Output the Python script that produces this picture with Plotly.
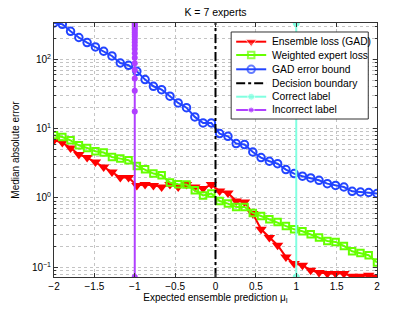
import plotly.graph_objects as go
import numpy as np

# x positions (40 points between -2 and 2)
mu = [-2.0, -1.897, -1.795, -1.692, -1.590, -1.487, -1.385, -1.282, -1.179, -1.077,
      -0.974, -0.872, -0.769, -0.667, -0.564, -0.462, -0.359, -0.256, -0.154, -0.051,
      0.051, 0.154, 0.256, 0.359, 0.462, 0.564, 0.667, 0.769, 0.872, 0.974,
      1.077, 1.179, 1.282, 1.385, 1.487, 1.590, 1.692, 1.795, 1.897, 2.0]

ensemble_loss = [6.8, 6.3, 5.27, 4.23, 3.83, 3.31, 2.80, 2.37, 1.97, 1.97,
                 1.52, 1.56, 1.52, 1.44, 1.56, 1.44, 1.56, 1.44, 1.37, 1.56,
                 1.26, 1.18, 0.905, 0.875, 0.595, 0.353, 0.268, 0.208, 0.141, 0.113,
                 0.107, 0.0905, 0.0839, 0.0811, 0.0811, 0.0811, 0.0741, 0.0741, 0.0767, 0.0724]

weighted_loss = [8.03, 7.59, 6.80, 5.76, 5.27, 4.72, 4.52, 3.91, 3.70, 3.50,
                 2.90, 2.59, 2.25, 2.13, 1.67, 1.58, 1.56, 1.29, 1.09, 1.16,
                 0.905, 0.830, 0.742, 0.742, 0.608, 0.550, 0.493, 0.451, 0.395, 0.353,
                 0.331, 0.299, 0.268, 0.240, 0.232, 0.203, 0.170, 0.161, 0.149, 0.117]

gad_bound = [335, 321, 254, 207, 175, 151, 131, 112, 88.7, 82.2,
             67.3, 51.1, 40.9, 36.6, 29.4, 23.5, 20.1, 14.8, 12.1, 12.1,
             8.49, 7.76, 6.10, 5.90, 4.61, 3.83, 3.39, 3.13, 2.57, 2.25,
             2.06, 1.95, 1.80, 1.61, 1.52, 1.44, 1.25, 1.22, 1.20, 1.16]

boundary_x = [0, 0]
boundary_y = [0.0724, 335]

correct_x = [1, 1]
correct_y = [0.0724, 335]

incorrect_y = [0.0724, 17.7, 35.3, 52.9, 70.5, 88.2, 106, 123, 141, 159,
               176, 194, 212, 229, 247, 265, 282, 300, 317, 335]
incorrect_x = [-1] * len(incorrect_y)

x_ticks = [-2, -1.5, -1, -0.5, 0, 0.5, 1, 1.5, 2]
x_tick_text = ["\u22122", "\u22121.5", "\u22121", "\u22120.5", "0", "0.5", "1", "1.5", "2"]
y_ticks = [0.1, 1, 10, 100]
y_tick_text = ["10<sup>\u22121</sup>", "10<sup>0</sup>", "10<sup>1</sup>", "10<sup>2</sup>"]

series_names = ["Ensemble loss (GAD)", "Weighted expert loss", "GAD error bound",
                "Decision boundary", "Correct label", "Incorrect label"]

RED = "#ff0000"
GREEN = "#66ff00"
BLUE = "#2244ff"
CYAN = "#80ffe0"
MAG = "#b040ff"

styles = [
    dict(line=dict(color=RED, width=2), marker=dict(symbol="triangle-down", size=10, color=RED), mode="lines+markers"),
    dict(line=dict(color=GREEN, width=2), marker=dict(symbol="square-open", size=6.5, color=GREEN, line=dict(width=2)), mode="lines+markers"),
    dict(line=dict(color=BLUE, width=2), marker=dict(symbol="circle-open", size=7.5, color=BLUE, line=dict(width=2)), mode="lines+markers"),
    dict(line=dict(color="black", width=2, dash="dashdot"), marker=dict(size=1), mode="lines"),
    dict(line=dict(color=CYAN, width=2), marker=dict(symbol="circle", size=7, color=CYAN), mode="lines+markers"),
    dict(line=dict(color=MAG, width=2), marker=dict(symbol="circle", size=6, color=MAG), mode="lines+markers"),
]

xs = [mu, mu, mu, boundary_x, correct_x, incorrect_x]
ys = [ensemble_loss, weighted_loss, gad_bound, boundary_y, correct_y, incorrect_y]

fig = go.Figure()
for name, x, y, st in zip(series_names, xs, ys, styles):
    fig.add_trace(go.Scatter(x=x, y=y, name=name, showlegend=False, hoverinfo="skip", **st))

# ---- legend drawn on an overlay axis (paper-like 0..1 coordinates) ----
lx0, lx1, ly0, ly1 = 0.5485, 0.973, 0.622, 0.9646
fig.add_trace(go.Scatter(x=[lx0, lx1, lx1, lx0, lx0], y=[ly0, ly0, ly1, ly1, ly0],
                         xaxis="x2", yaxis="y2", mode="lines", fill="toself",
                         fillcolor="white", line=dict(color="#333", width=1),
                         showlegend=False, hoverinfo="skip"))
sx0, sx1 = 0.564, 0.657
sxm = (sx0 + sx1) / 2
entry_y = [0.9264, 0.874, 0.8177, 0.7626, 0.7098, 0.6575]
for name, st, ey in zip(series_names, styles, entry_y):
    mk = dict(st["marker"])
    if st["mode"] == "lines":
        fig.add_trace(go.Scatter(x=[sx0, sx1], y=[ey, ey], xaxis="x2", yaxis="y2",
                                 mode="lines", line=st["line"], showlegend=False,
                                 hoverinfo="skip", cliponaxis=False))
    else:
        mk["size"] = [0, mk["size"], 0]
        fig.add_trace(go.Scatter(x=[sx0, sxm, sx1], y=[ey, ey, ey], xaxis="x2", yaxis="y2",
                                 mode="lines+markers", line=st["line"], marker=mk,
                                 showlegend=False, hoverinfo="skip", cliponaxis=False))
    fig.add_annotation(x=0.669, y=ey, xref="paper", yref="paper", text=name,
                       showarrow=False, xanchor="left", yanchor="middle",
                       font=dict(size=10.3, color="black"))

ymin = min(ensemble_loss)
ymax = max(gad_bound)

GRID = "#c4c4c4"
FONT = "Liberation Sans, Arial, sans-serif"
fig.update_layout(
    width=415, height=312,
    margin=dict(l=54, r=38, t=23, b=35),
    paper_bgcolor="white", plot_bgcolor="white",
    font=dict(family=FONT, size=10, color="black"),
    title=dict(text="K = 7 experts", x=0.5, xref="paper", xanchor="center",
               y=0.962, yref="container", yanchor="middle", font=dict(size=10.5)),
    showlegend=False,
    hovermode=False,
    xaxis2=dict(overlaying="x", range=[0, 1], visible=False, fixedrange=True),
    yaxis2=dict(overlaying="y", range=[0, 1], visible=False, fixedrange=True),
)
fig.update_layout(xaxis=dict(range=[-2, 2], tickvals=x_ticks, ticktext=x_tick_text,
                 showgrid=True, gridcolor=GRID, griddash="dot", gridwidth=1,
                 ticks="inside", ticklen=4, tickcolor="#333",
                 showline=True, linecolor="#333", linewidth=1, mirror="allticks",
                 zeroline=False,
                 title=dict(text="Expected ensemble prediction \u03bc<sub>I</sub>", standoff=2,
                            font=dict(size=10))))
fig.update_layout(yaxis=dict(type="log", range=[np.log10(ymin), np.log10(ymax)],
                 tickvals=y_ticks, ticktext=y_tick_text,
                 showgrid=True, gridcolor=GRID, griddash="dot", gridwidth=1,
                 minor=dict(dtick="D1", showgrid=True, gridcolor=GRID, griddash="dot",
                            ticks="inside", ticklen=2, tickcolor="#333"),
                 ticks="inside", ticklen=4, tickcolor="#333",
                 showline=True, linecolor="#333", linewidth=1, mirror="allticks",
                 zeroline=False,
                 title=dict(text="Median absolute error", standoff=10, font=dict(size=10))))

fig.write_html("out.html", config={"displayModeBar": False},
               post_script="document.body.style.margin='0px';")
